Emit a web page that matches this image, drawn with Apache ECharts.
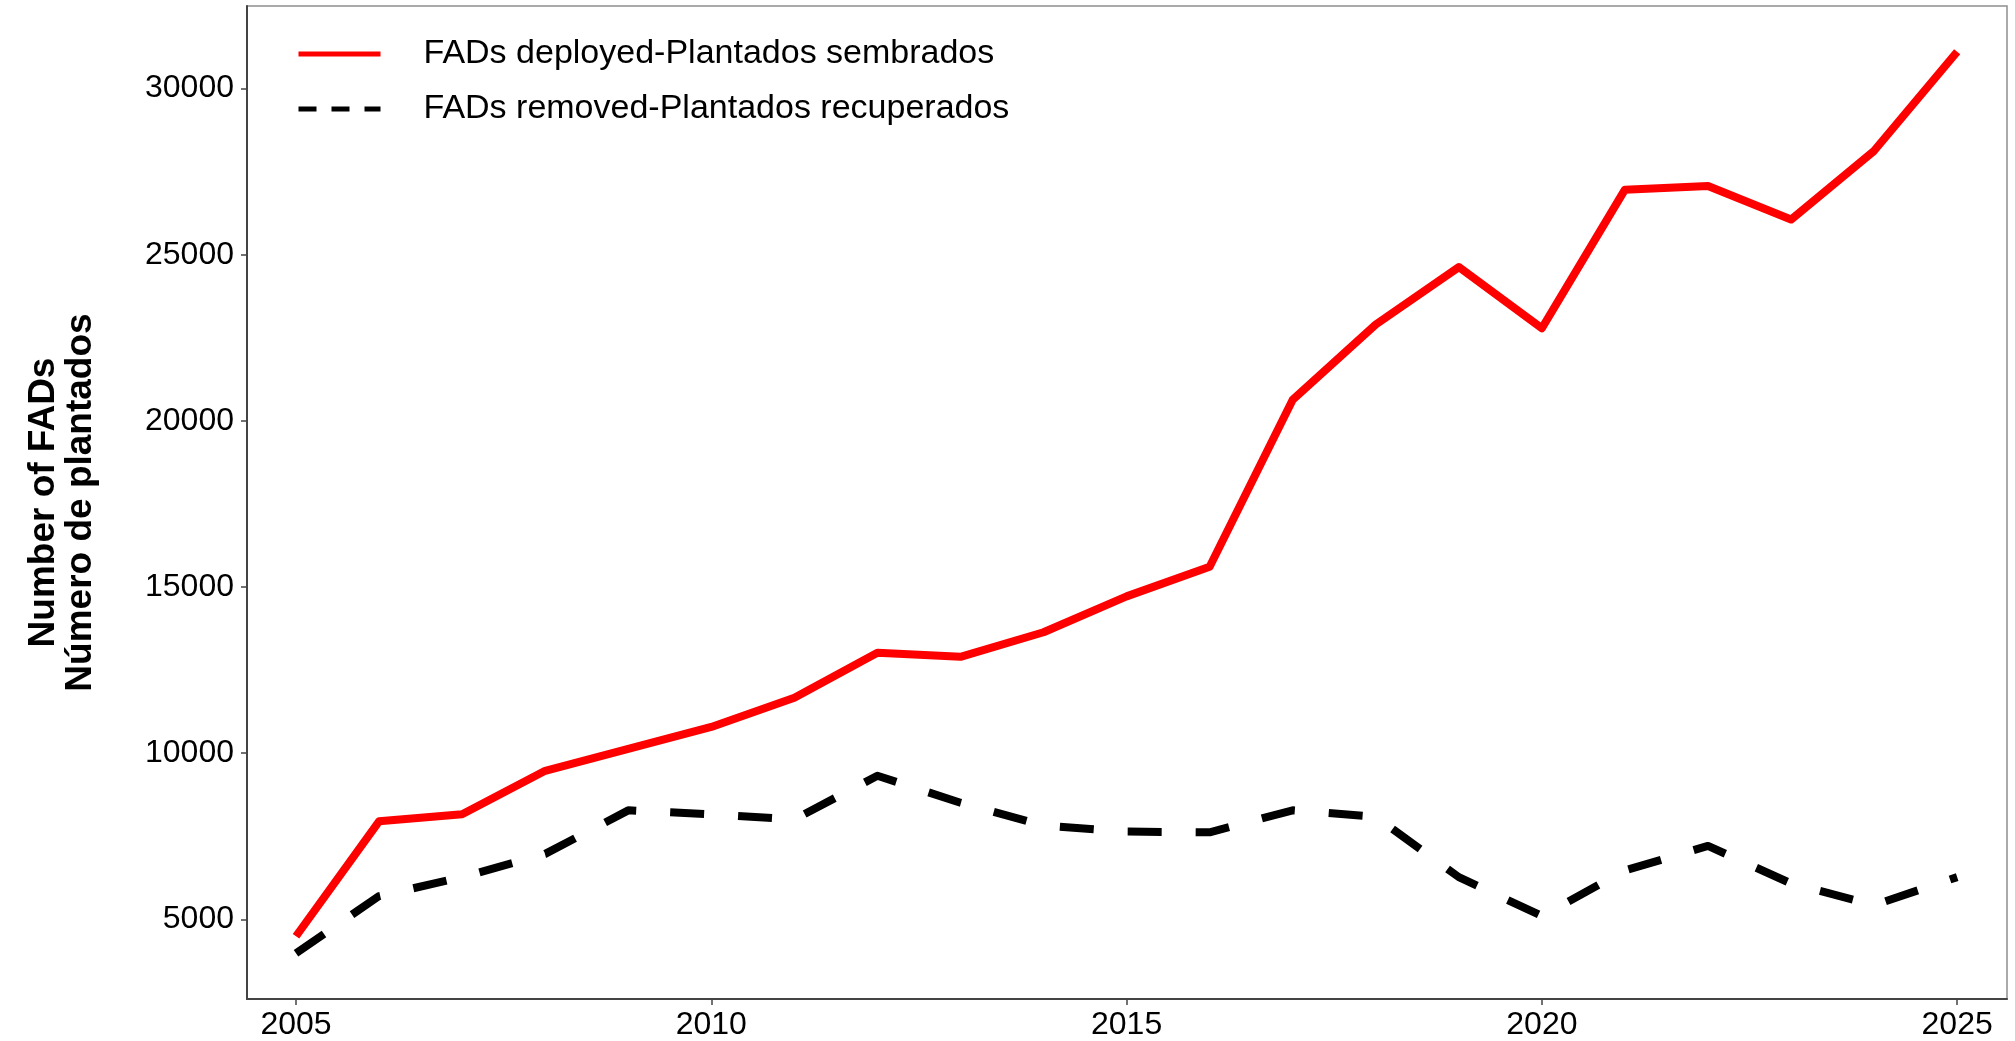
<!DOCTYPE html>
<html>
<head>
<meta charset="utf-8">
<script src="https://cdn.jsdelivr.net/npm/echarts@6/dist/echarts.min.js"></script>
<style>
  html, body { margin: 0; padding: 0; background: #fff; }
  #chart { width: 2015px; height: 1041px; }
</style>
</head>
<body>
<div id="chart"></div>
<script>
const years = [2005, 2006, 2007, 2008, 2009, 2010, 2011, 2012, 2013, 2014, 2015,
  2016, 2017, 2018, 2019, 2020, 2021, 2022, 2023, 2024, 2025]
const deployed = [4490, 7950, 8160, 9470, 10130, 10790, 11670, 13020, 12900, 13640, 14720,
  15610, 20640, 22900, 24630, 22790, 26960, 27070, 26060, 28130, 31110]
const removed = [3980, 5700, 6270, 6970, 8280, 8160, 8010, 9320, 8510, 7820, 7640,
  7620, 8280, 8090, 6270, 5100, 6470, 7210, 6080, 5430, 6270]
const xTicks = [2005, 2010, 2015, 2020, 2025]
const yTicks = [5000, 10000, 15000, 20000, 25000, 30000]

const nameDeployed = 'FADs deployed-Plantados sembrados'
const nameRemoved = 'FADs removed-Plantados recuperados'

const font = '"Liberation Sans", Arial, sans-serif'

const chart = echarts.init(document.getElementById('chart'))

chart.setOption({
  backgroundColor: '#fff',
  animation: false,
  grid: {
    left: 247,
    right: 8,
    top: 6,
    bottom: 38,
    show: true,
    borderColor: '#8f8f8f',
    borderWidth: 1.5,
  },
  legend: {
    orient: 'vertical',
    left: 291,
    top: 32,
    itemWidth: 82,
    itemHeight: 30,
    itemGap: 21,
    formatter: (name) => '{gap|}' + name,
    textStyle: {
      fontFamily: font,
      fontSize: 34,
      color: '#000',
      rich: { gap: { width: 38 } },
    },
    data: [
      { name: nameDeployed, itemStyle: { opacity: 0 }, lineStyle: { width: 5, type: 'solid', color: '#ff0000' } },
      { name: nameRemoved, itemStyle: { opacity: 0 }, lineStyle: { width: 5, type: [18, 15], color: '#000' } },
    ],
  },
  xAxis: {
    type: 'value',
    min: 2004.41,
    max: 2025.6,
    splitLine: { show: false },
    axisLine: { show: true, onZero: false, lineStyle: { color: '#444', width: 2 } },
    axisTick: { show: true, customValues: xTicks, length: 6, lineStyle: { color: '#444', width: 1.5 } },
    axisLabel: {
      customValues: xTicks,
      margin: 10,
      fontFamily: font,
      fontSize: 32,
      color: '#000',
      formatter: (v) => String(v),
    },
  },
  yAxis: {
    type: 'value',
    min: 2602,
    max: 32488,
    name: 'Number of FADs\nNúmero de plantados',
    nameLocation: 'middle',
    nameRotate: 90,
    nameGap: 148,
    nameTextStyle: {
      fontFamily: font,
      fontSize: 37,
      fontWeight: 'bold',
      color: '#000',
      lineHeight: 37,
    },
    splitLine: { show: false },
    axisLine: { show: true, onZero: false, lineStyle: { color: '#444', width: 2 } },
    axisTick: { show: true, customValues: yTicks, length: 6, lineStyle: { color: '#444', width: 1.5 } },
    axisLabel: {
      customValues: yTicks,
      margin: 13,
      fontFamily: font,
      fontSize: 32,
      color: '#000',
      formatter: (v) => String(v),
    },
  },
  series: [
    {
      name: nameDeployed,
      type: 'line',
      data: years.map((y, i) => [y, deployed[i]]),
      symbol: 'none',
      lineStyle: { color: '#ff0000', width: 8, cap: 'butt', join: 'round' },
      itemStyle: { color: '#ff0000' },
      z: 3,
    },
    {
      name: nameRemoved,
      type: 'line',
      data: years.map((y, i) => [y, removed[i]]),
      symbol: 'none',
      lineStyle: { color: '#000', width: 8, type: [34, 34], cap: 'butt', join: 'round' },
      itemStyle: { color: '#000' },
      z: 2,
    },
  ],
})
</script>
</body>
</html>
